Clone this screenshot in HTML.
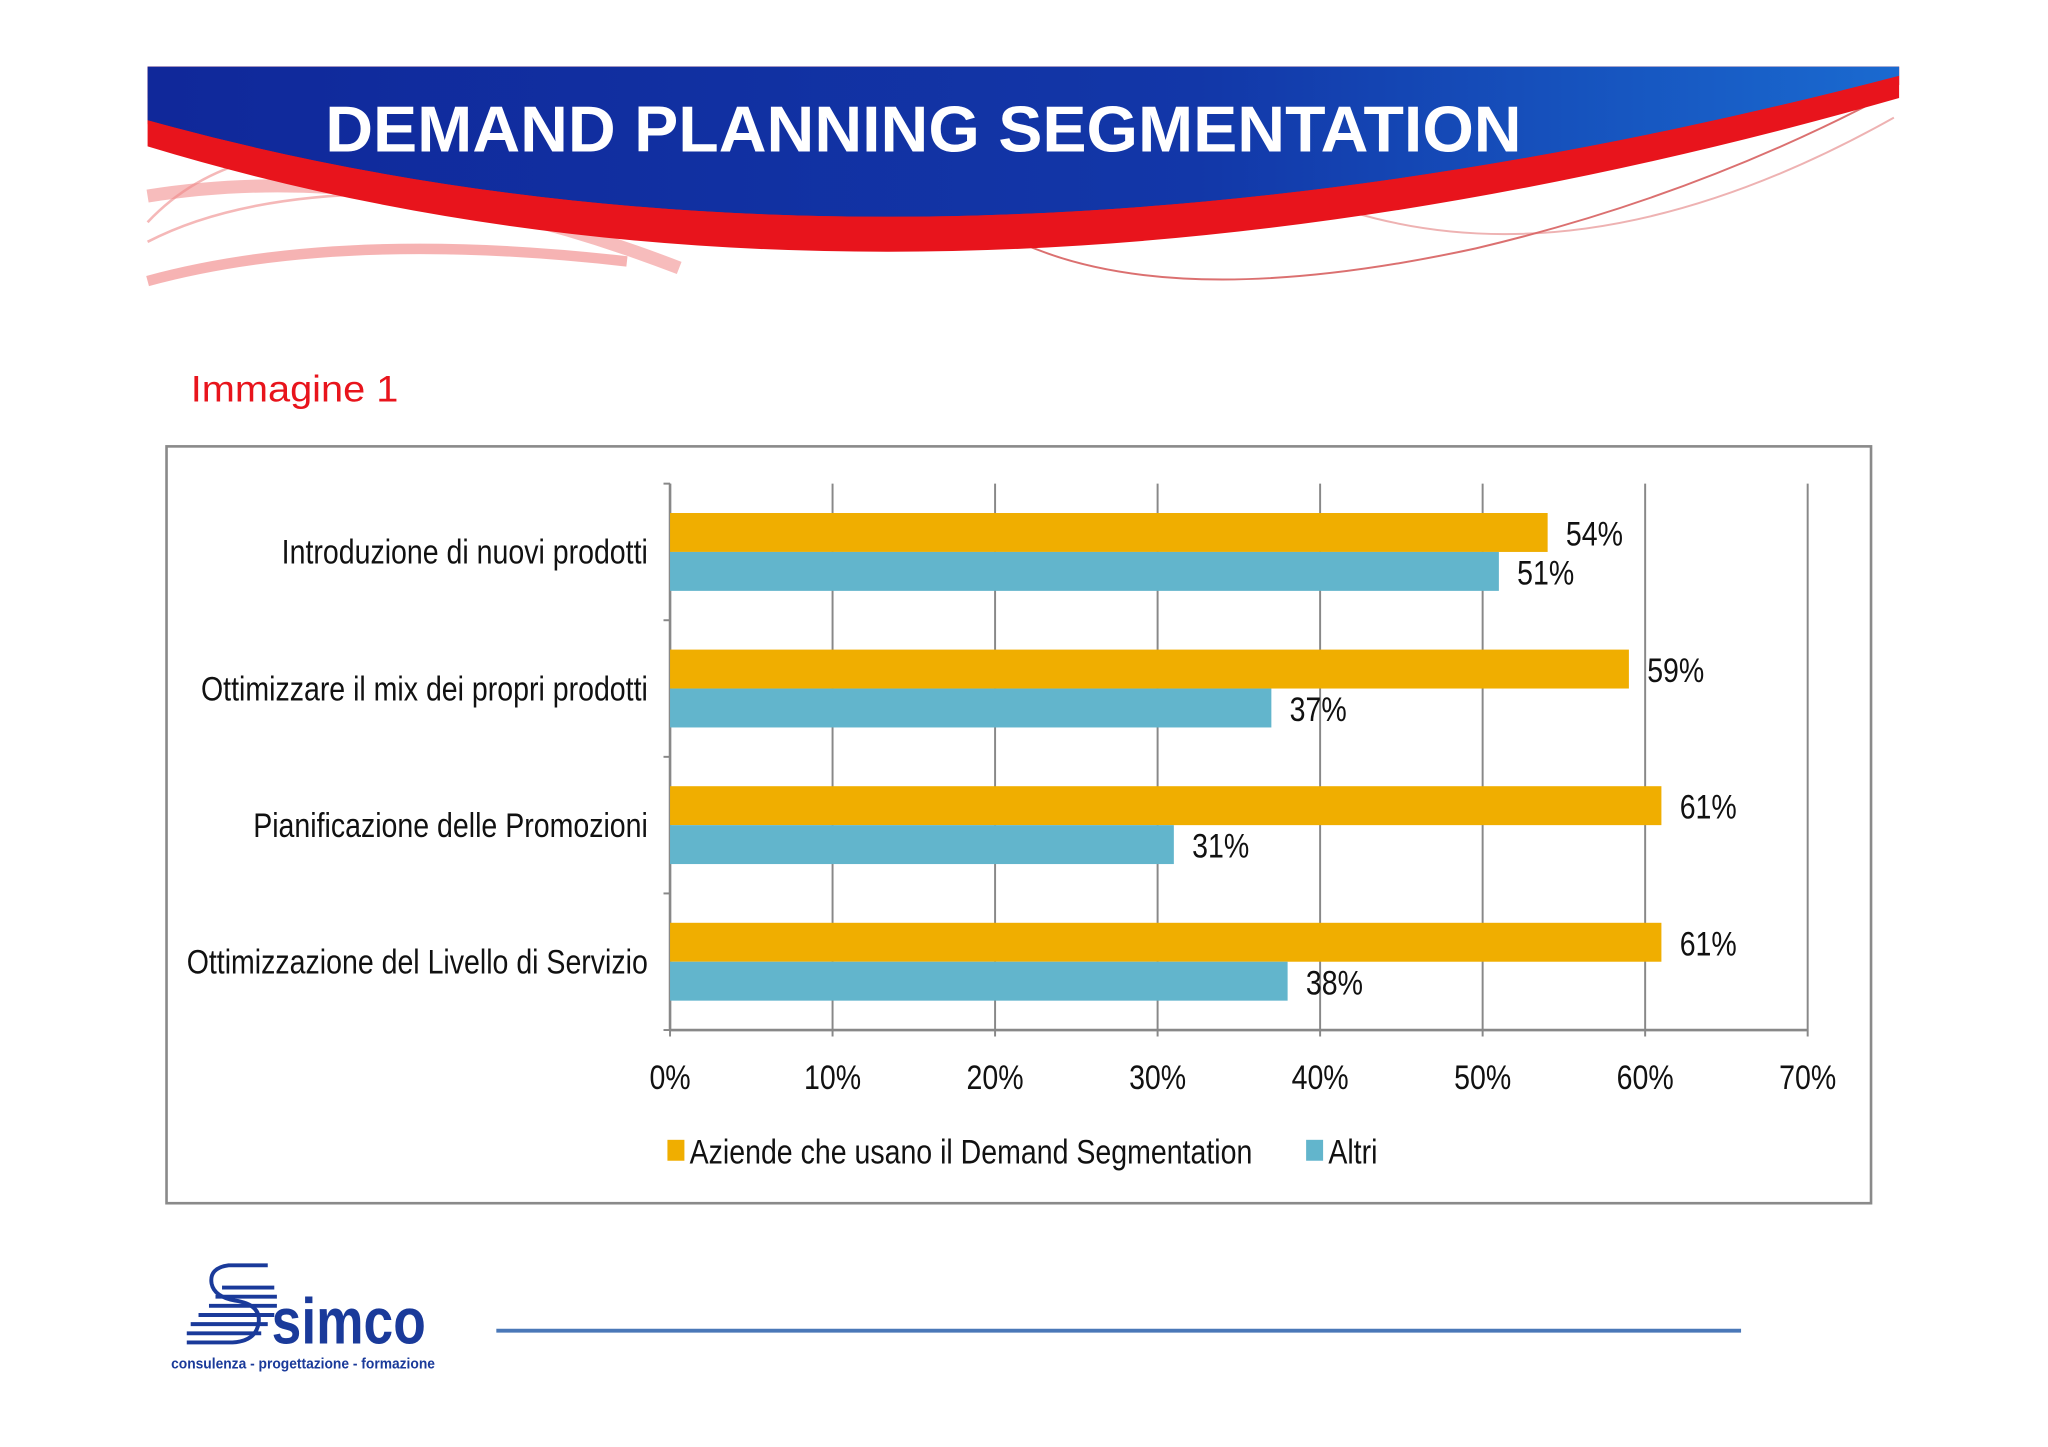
<!DOCTYPE html>
<html><head><meta charset="utf-8"><style>
html,body{margin:0;padding:0;background:#fff;width:2048px;height:1447px;overflow:hidden}
svg{display:block}
text{font-family:"Liberation Sans",sans-serif}
</style></head><body>
<svg id="page" width="2048" height="1447" viewBox="0 0 1568 1107" preserveAspectRatio="none" xmlns="http://www.w3.org/2000/svg">
<defs>
<linearGradient id="bg" x1="0" x2="1" y1="0" y2="0"><stop offset="0" stop-color="#10289a"/><stop offset="0.6" stop-color="#1237a8"/><stop offset="1" stop-color="#1a6ad0"/></linearGradient>
</defs>
<g>
<path d="M113,150 Q300,120 520,205" fill="none" stroke="#f3a0a0" stroke-width="10" opacity="0.7"/>
<path d="M113,215 Q260,175 480,200" fill="none" stroke="#f08080" stroke-width="8" opacity="0.6"/>
<path d="M113,185 Q200,140 360,150" fill="none" stroke="#e88" stroke-width="2" opacity="0.6"/>
<path d="M113,170 Q160,120 240,115" fill="none" stroke="#e88" stroke-width="2" opacity="0.6"/>
<path d="M780,185 Q900,240 1130,190 Q1300,150 1450,70" fill="none" stroke="#c33" stroke-width="1.5" opacity="0.7"/>
<path d="M1000,150 Q1200,230 1450,90" fill="none" stroke="#d66" stroke-width="1.5" opacity="0.5"/>
<path d="M113,51 L1454,51 L1454,65 Q700,300 113,75 Z" fill="#e8141c"/>
<path d="M113,51 L1454,51 L1454,65 Q700,270 113,95 L113,51 Z" fill="#e8141c"/>
<path d="M113,51 L1454,51 L1454,58 Q700,255 113,92 Z" fill="url(#bg)"/>
<path d="M113,92 Q700,255 1454,58 L1454,75 Q700,290 113,112 Z" fill="#e8141c"/>
<text x="249" y="116" font-size="50" font-weight="bold" fill="#fff" textLength="916" lengthAdjust="spacingAndGlyphs">DEMAND PLANNING SEGMENTATION</text>
</g>
<text x="146" y="307" font-size="28" fill="#e8141c" textLength="159" lengthAdjust="spacingAndGlyphs">Immagine 1</text>
<rect x="127.5" y="341.5" width="1305" height="579" fill="#fff" stroke="#8a8a8a" stroke-width="2"/>
<g id="chart"></g>
<g>
<g stroke="#1a3a9a" stroke-width="3" fill="none">
<path d="M205,968 H175 Q160,970 162,982 Q164,992 180,995 Q200,998 198,1012 Q196,1026 178,1027 H143"/>
<path d="M170,985 H210"/><path d="M165,992 H212"/><path d="M160,999 H212"/><path d="M152,1006 H210"/><path d="M146,1013 H205"/><path d="M143,1020 H200"/>
</g>
<text x="208" y="1028" font-size="50" font-weight="bold" fill="#1a3a9a" textLength="118" lengthAdjust="spacingAndGlyphs">simco</text>
<text x="131" y="1047" font-size="11" font-weight="bold" fill="#1a3a9a" font-family="Liberation Serif,serif" textLength="202" lengthAdjust="spacingAndGlyphs">consulenza - progettazione - formazione</text>
</g>
<line x1="380" y1="1018" x2="1333" y2="1018" stroke="#4a78b8" stroke-width="3"/>
</svg>
<script>
const categories = ["Introduzione di nuovi prodotti","Ottimizzare il mix dei propri prodotti","Pianificazione delle Promozioni","Ottimizzazione del Livello di Servizio"];
const seriesNames = ["Aziende che usano il Demand Segmentation","Altri"];
const demandSeg = [54,59,61,61];
const altri = [51,37,31,38];
const ticks = [0,10,20,30,40,50,60,70];
const tickLabels = ["0%","10%","20%","30%","40%","50%","60%","70%"];

const NS="http://www.w3.org/2000/svg";
const g=document.getElementById('chart');
const X0=513,X1=1384,Y0=370,Y1=788,MAXV=70;
const xs=v=>X0+(X1-X0)*v/MAXV;
const band=(Y1-Y0)/categories.length;
const colors=["#f0ae00","#62b5cc"];
function mk(tag,attrs){const e=document.createElementNS(NS,tag);for(const k in attrs)e.setAttribute(k,attrs[k]);g.appendChild(e);return e;}
function txt(str,x,y,anchor,size){const e=mk('text',{transform:`translate(${x},${y}) scale(0.84,1)`,'text-anchor':anchor,'font-size':size,fill:'#111'});e.textContent=str;return e;}
ticks.forEach((t,i)=>{
  const l=mk('line',{x1:xs(t),x2:xs(t),y1:Y0,y2:Y1+5,stroke:'#888','stroke-width':1.5});
  
  
  const tl=txt(tickLabels[i],xs(t),Y1+45,'middle',26);
  
  
});
const ax=mk('line',{x1:X0,x2:X0,y1:Y0,y2:Y1,stroke:'#888','stroke-width':2});


const bx=mk('line',{x1:X0,x2:X1,y1:Y1,y2:Y1,stroke:'#888','stroke-width':2});


for(let i=0;i<=categories.length;i++){const tk=mk('line',{x1:X0-5,x2:X0,y1:Y0+band*i,y2:Y0+band*i,stroke:'#888','stroke-width':1.5});

}
const bh=band*0.285;
categories.forEach((c,i)=>{
  const cy=Y0+band*i+band/2;
  const cl=txt(c,496,cy+9,'end',26);
  
  
  [demandSeg,altri].forEach((s,j)=>{
    const y=cy-bh+j*bh;
    const r=mk('rect',{x:X0,y:y,width:xs(s[i])-X0,height:bh,fill:colors[j]});
    
    
    const v=txt(s[i]+'%',xs(s[i])+14,y+bh/2+10,'start',26);
    
    
  });
});
const lx=[511,1000];
seriesNames.forEach((n,j)=>{
  const sq=mk('rect',{x:lx[j],y:872,width:13,height:16,fill:colors[j]});
  
  
  const t=txt(n,lx[j]+17,890,'start',26);
  
  
});
</script>
</body></html>
